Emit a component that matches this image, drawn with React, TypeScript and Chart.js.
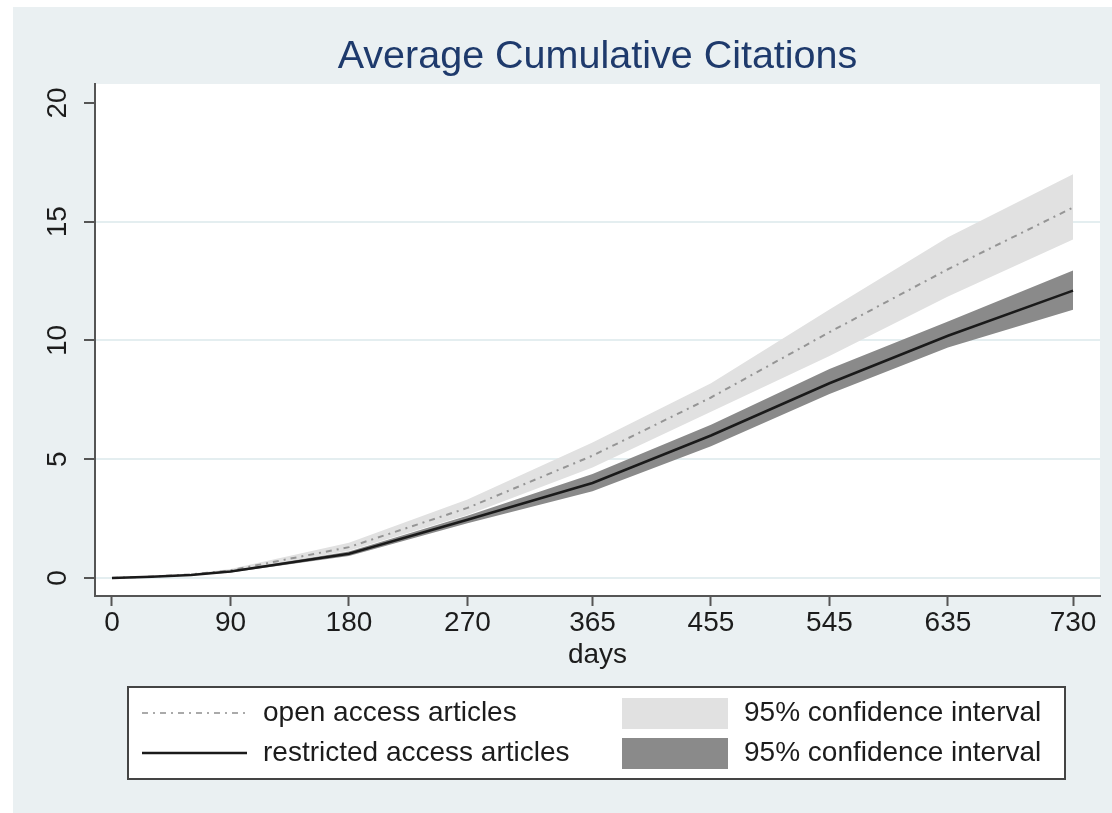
import React, { useEffect, useRef } from "react";
import { Chart, registerables } from "chart.js";

Chart.register(...registerables);

// ---- data ----
const days = [0, 30, 60, 90, 180, 270, 365, 455, 545, 635, 730];
const openMean = [0, 0.06, 0.15, 0.32, 1.3, 2.95, 5.15, 7.6, 10.35, 13.0, 15.6];
const openUpper = [0, 0.08, 0.18, 0.38, 1.48, 3.3, 5.7, 8.2, 11.3, 14.35, 17.0];
const openLower = [0, 0.04, 0.12, 0.27, 1.15, 2.65, 4.65, 7.0, 9.35, 11.85, 14.25];
const restMean = [0, 0.05, 0.13, 0.27, 1.02, 2.45, 4.0, 6.0, 8.2, 10.2, 12.1];
const restUpper = [0, 0.06, 0.15, 0.31, 1.12, 2.62, 4.38, 6.45, 8.8, 10.8, 12.95];
const restLower = [0, 0.04, 0.11, 0.23, 0.93, 2.3, 3.65, 5.55, 7.75, 9.7, 11.3];

const xTickValues = [0, 90, 180, 270, 365, 455, 545, 635, 730];
const yTickValues = [0, 5, 10, 15, 20];
const chartTitle = "Average Cumulative Citations";
const xAxisTitle = "days";
const legendLineLabels = ["open access articles", "restricted access articles"];
const legendAreaLabels = ["95% confidence interval", "95% confidence interval"];

const FONT = "'Liberation Sans', Arial, sans-serif";
const OUTER_BG = "#eaf0f2";
const GRID = "#e4eef0";
const AXIS = "#555555";
const TEXT = "#1c1c1c";
const LIGHT_BAND = "#e1e1e1";
const DARK_BAND = "#8a8a8a";
const OPEN_LINE = "#959595";
const REST_LINE = "#1a1a1a";
const DASH = [6, 5, 2, 5];

export default function App() {
  const ref = useRef<HTMLCanvasElement | null>(null);

  useEffect(() => {
    document.body.style.margin = "0";
    const canvas = ref.current;
    if (!canvas) return;
    const pts = (ys: number[]) => days.map((d, i) => ({ x: d, y: ys[i] }));
    const none = "rgba(0,0,0,0)";

    const decor = {
      id: "decor",
      beforeDraw(chart: any) {
        const { ctx, chartArea: a, width, height } = chart;
        ctx.save();
        ctx.fillStyle = "#ffffff";
        ctx.fillRect(0, 0, width, height);
        ctx.fillStyle = OUTER_BG;
        ctx.fillRect(13, 7, width - 13, height - 7);
        ctx.fillStyle = "#ffffff";
        ctx.fillRect(a.left, a.top, a.right - a.left, a.bottom - a.top);
        ctx.restore();
      },
      afterDraw(chart: any) {
        const { ctx, chartArea: a } = chart;
        const yScale = chart.scales.y;
        ctx.save();
        // title
        ctx.font = `39.5px ${FONT}`;
        ctx.fillStyle = "#1e3a6c";
        ctx.textAlign = "center";
        ctx.textBaseline = "alphabetic";
        ctx.fillText(chartTitle, (a.left + a.right) / 2, 68);

        // y tick labels (vertical, Stata style)
        ctx.font = `28px ${FONT}`;
        ctx.fillStyle = TEXT;
        ctx.textBaseline = "middle";
        ctx.textAlign = "center";
        for (const v of yTickValues) {
          const py = yScale.getPixelForValue(v);
          ctx.save();
          ctx.translate(58, py);
          ctx.rotate(-Math.PI / 2);
          ctx.fillText(String(v), 0, 0);
          ctx.restore();
        }

        // legend
        const lx = 128, ly = 687, lw = 937, lh = 92;
        ctx.fillStyle = "#ffffff";
        ctx.fillRect(lx, ly, lw, lh);
        ctx.strokeStyle = "#444444";
        ctx.lineWidth = 2;
        ctx.strokeRect(lx, ly, lw, lh);
        const rows = [713, 753];
        // line samples
        ctx.beginPath();
        ctx.setLineDash(DASH);
        ctx.strokeStyle = "#aaaaaa";
        ctx.lineWidth = 2;
        ctx.moveTo(142, rows[0]);
        ctx.lineTo(247, rows[0]);
        ctx.stroke();
        ctx.setLineDash([]);
        ctx.beginPath();
        ctx.strokeStyle = REST_LINE;
        ctx.lineWidth = 2.5;
        ctx.moveTo(142, rows[1]);
        ctx.lineTo(247, rows[1]);
        ctx.stroke();
        // area swatches
        ctx.fillStyle = LIGHT_BAND;
        ctx.fillRect(622, 698, 106, 31);
        ctx.fillStyle = DARK_BAND;
        ctx.fillRect(622, 738, 106, 31);
        // texts
        ctx.font = `28px ${FONT}`;
        ctx.fillStyle = TEXT;
        ctx.textAlign = "left";
        ctx.textBaseline = "middle";
        ctx.fillText(legendLineLabels[0], 263, rows[0]);
        ctx.fillText(legendLineLabels[1], 263, rows[1]);
        ctx.fillText(legendAreaLabels[0], 744, rows[0]);
        ctx.fillText(legendAreaLabels[1], 744, rows[1]);
        ctx.restore();
      },
    };

    const chart = new Chart(canvas, {
      type: "line",
      data: {
        datasets: [
          { label: "open upper", data: pts(openUpper), fill: "+1", backgroundColor: LIGHT_BAND, borderColor: none, borderWidth: 1, pointRadius: 0, order: 5 },
          { label: "open lower", data: pts(openLower), fill: false, borderColor: none, borderWidth: 1, pointRadius: 0, order: 4 },
          { label: "restricted upper", data: pts(restUpper), fill: "+1", backgroundColor: DARK_BAND, borderColor: none, borderWidth: 1, pointRadius: 0, order: 3 },
          { label: "restricted lower", data: pts(restLower), fill: false, borderColor: none, borderWidth: 1, pointRadius: 0, order: 2 },
          { label: legendLineLabels[0], data: pts(openMean), fill: false, borderColor: OPEN_LINE, borderWidth: 2, borderDash: DASH, pointRadius: 0, order: 1 },
          { label: legendLineLabels[1], data: pts(restMean), fill: false, borderColor: REST_LINE, borderWidth: 2.5, pointRadius: 0, order: 0 },
        ],
      },
      options: {
        responsive: false,
        animation: false,
        devicePixelRatio: 1,
        layout: { padding: { left: 13, top: 84, right: 12, bottom: 141 } },
        elements: { line: { tension: 0 } },
        plugins: { legend: { display: false }, title: { display: false }, tooltip: { enabled: false } },
        scales: {
          x: {
            type: "linear",
            min: -12.9,
            max: 750.5,
            afterBuildTicks: (s: any) => {
              s.ticks = xTickValues.map((v) => ({ value: v }));
            },
            afterFit: (s: any) => {
              s.height = 76;
            },
            ticks: {
              autoSkip: false,
              maxRotation: 0,
              minRotation: 0,
              padding: 0,
              color: TEXT,
              font: { family: FONT, size: 28 },
              callback: (v: any) => String(v),
            },
            grid: { drawOnChartArea: false, drawTicks: true, tickLength: 10, tickColor: AXIS, tickWidth: 2 },
            border: { display: true, color: AXIS, width: 2 },
            title: { display: true, text: xAxisTitle, color: TEXT, font: { family: FONT, size: 28 }, padding: 0 },
          },
          y: {
            type: "linear",
            min: -0.758,
            max: 20.8,
            afterBuildTicks: (s: any) => {
              s.ticks = yTickValues.map((v) => ({ value: v }));
            },
            afterFit: (s: any) => {
              s.width = 82;
            },
            ticks: { display: false },
            grid: {
              drawOnChartArea: true,
              drawTicks: true,
              tickLength: 11,
              tickColor: AXIS,
              tickWidth: 2,
              lineWidth: 2,
              color: (c: any) => (c.tick && c.tick.value === 20 ? "rgba(0,0,0,0)" : GRID),
            },
            border: { display: true, color: AXIS, width: 2 },
          },
        },
      },
      plugins: [decor],
    } as any);

    return () => chart.destroy();
  }, []);

  return (
    <div style={{ position: "absolute", left: 0, top: 0, width: 1112, height: 813 }}>
      <canvas ref={ref} width={1112} height={813} style={{ display: "block" }} />
    </div>
  );
}
